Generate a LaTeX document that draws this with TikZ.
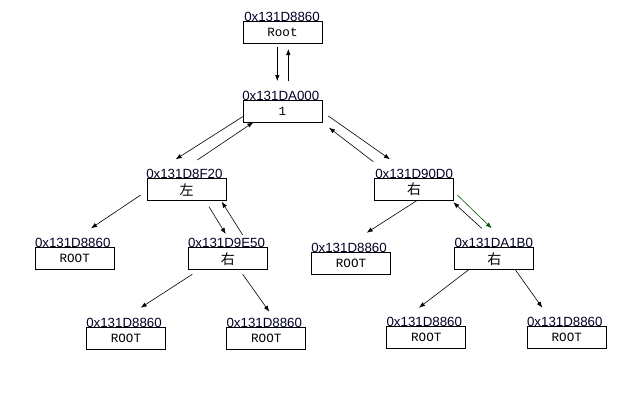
\documentclass[tikz,border=0pt]{standalone}
\usepackage{fontspec}
\setmainfont{Liberation Sans}
\newfontfamily\boxfont{Liberation Mono}
\newfontfamily\cjk{Noto Sans CJK SC}
\usetikzlibrary{arrows.meta,calc}
\definecolor{darkgreenline}{RGB}{0,90,0}
\newcommand\lowtext[1]{\raisebox{-2.5pt}{#1}}
\newcommand\lowcjk[1]{\raisebox{-1pt}{#1}}
\tikzset{
  cell/.style={draw=black, line width=0.8pt, minimum width=79pt, minimum height=22pt, inner sep=0pt, font=\boxfont\fontsize{12.6}{12.6}\selectfont},
  cjkcell/.style={cell, font=\cjk\fontsize{14}{14}\selectfont},
  addr/.style={anchor=base west, inner sep=0pt, font=\fontsize{13.3}{13.3}\selectfont, text=black!85!blue},
  link/.style={line width=0.6pt, -{Latex[length=6pt,width=4.5pt]}},
}
\begin{document}
\begin{tikzpicture}[x=1pt,y=-1pt]
\useasboundingbox (0,0) rectangle (627,405);
% boxes
\node[cell] (root) at (282.5,32) {\lowtext{Root}};
\node[cell] (one) at (282.5,111.5) {\lowtext{1}};
\node[cjkcell] (L) at (186.5,189.5) {\lowcjk{左}};
\node[cjkcell] (R) at (414,189.5) {\lowcjk{右}};
\node[cell] (LL) at (74.7,258.7) {\lowtext{ROOT}};
\node[cjkcell] (LR) at (227.8,258.7) {\lowcjk{右}};
\node[cell] (RL) at (351,263.5) {\lowtext{ROOT}};
\node[cjkcell] (RR) at (494.3,258.7) {\lowcjk{右}};
\node[cell] (LRL) at (126,338.3) {\lowtext{ROOT}};
\node[cell] (LRR) at (266.3,338.3) {\lowtext{ROOT}};
\node[cell] (RRL) at (426.3,337) {\lowtext{ROOT}};
\node[cell] (RRR) at (566.8,337) {\lowtext{ROOT}};
% address labels
\node[addr] (root-a) at ([xshift=1.5pt,yshift=-0.5pt]root.north west) {0x131D8860};
\node[addr] (one-a) at ([xshift=-0.5pt,yshift=-0.5pt]one.north west) {0x131DA000};
\node[addr] (L-a) at ([xshift=-0.5pt,yshift=-0.5pt]L.north west) {0x131D8F20};
\node[addr] (R-a) at ([xshift=1pt,yshift=-0.5pt]R.north west) {0x131D90D0};
\node[addr] (LL-a) at ([xshift=0pt,yshift=-0.5pt]LL.north west) {0x131D8860};
\node[addr] (LR-a) at ([xshift=0pt,yshift=-0.5pt]LR.north west) {0x131D9E50};
\node[addr] (RL-a) at ([xshift=0pt,yshift=-0.5pt]RL.north west) {0x131D8860};
\node[addr] (RR-a) at ([xshift=0pt,yshift=-0.5pt]RR.north west) {0x131DA1B0};
\node[addr] (LRL-a) at ([xshift=0pt,yshift=-0.5pt]LRL.north west) {0x131D8860};
\node[addr] (LRR-a) at ([xshift=0pt,yshift=-0.5pt]LRR.north west) {0x131D8860};
\node[addr] (RRL-a) at ([xshift=0pt,yshift=-0.5pt]RRL.north west) {0x131D8860};
\node[addr] (RRR-a) at ([xshift=0pt,yshift=-0.5pt]RRR.north west) {0x131D8860};
% connectors
\draw[link] ($(root)+(-5.2,15)$) -- ($(one)+(-5.2,-30.5)$);
\draw[link] ($(one)+(5.8,-30.5)$) -- ($(root)+(5.8,17)$);
\draw[link] ($(one)+(-39.8,5.2)$) -- ($(L)+(-10.8,-30.2)$);
\draw[link] ($(L)+(10.8,-29.5)$) -- ($(one)+(-29.2,10.8)$);
\draw[link] ($(one)+(45.8,4.5)$) -- ($(R)+(-24,-30.2)$);
\draw[link] ($(R)+(-40.7,-27.8)$) -- ($(one)+(46.5,16.2)$);
\draw[link] ($(L)+(-45.8,5.5)$) -- ($(LL)+(16.3,-30.4)$);
\draw[link] ($(L)+(22.5,17.2)$) -- ($(LR)+(-2.1,-24.7)$);
\draw[link] ($(LR)+(14.9,-23.7)$) -- ($(L)+(35.2,12.2)$);
\draw[link] ($(LR)+(-35.5,15.6)$) -- ($(LRL)+(14.7,-30.6)$);
\draw[link] ($(LR)+(14.9,15.6)$) -- ($(LRR)+(3,-26.6)$);
\draw[link] ($(R)+(2.7,11.2)$) -- ($(RL)+(15.7,-30.8)$);
\draw[link, draw=darkgreenline] ($(R)+(43.3,5.5)$) -- ($(RR)+(-2.6,-30.4)$);
\draw[link] ($(RR)+(-12.6,-30.4)$) -- ($(R)+(39.3,12.8)$);
\draw[link] ($(RR)+(-25,10.6)$) -- ($(RRL)+(-7.3,-29.3)$);
\draw[link] ($(RR)+(20.7,10.6)$) -- ($(RRR)+(-24.5,-29.3)$);
\end{tikzpicture}
\end{document}
